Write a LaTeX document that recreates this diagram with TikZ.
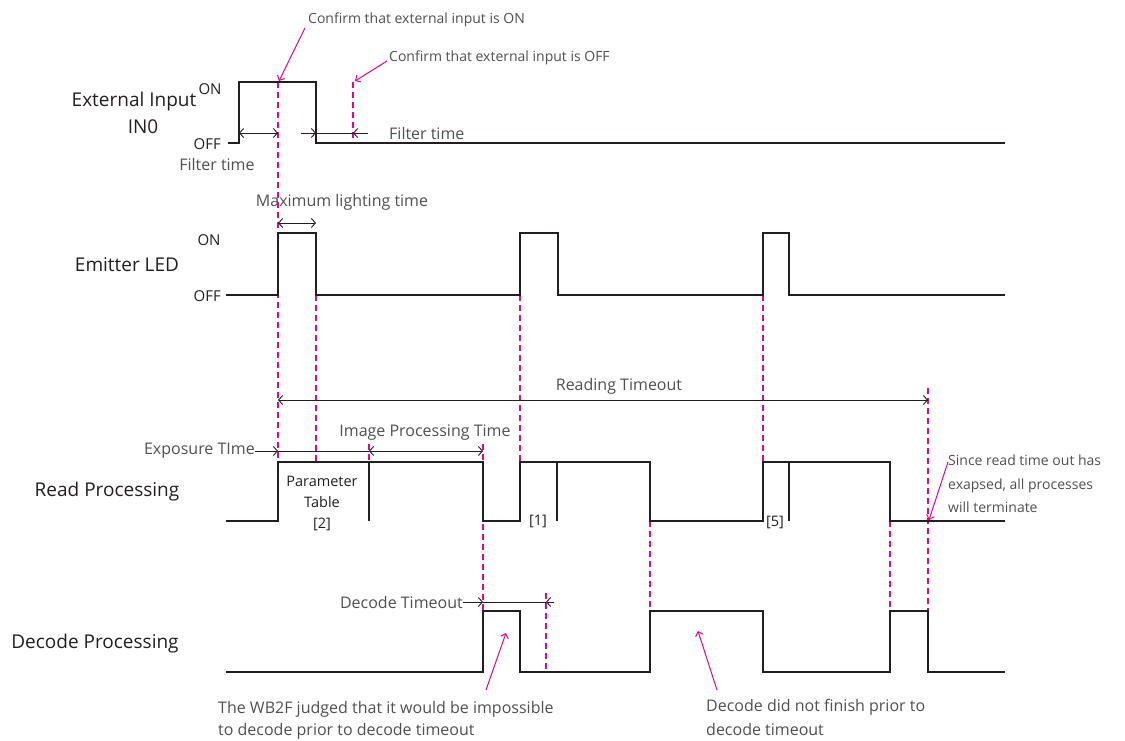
\documentclass[tikz,border=0pt]{standalone}
\usepackage{fontspec}
\setmainfont{Open Sans}
\usetikzlibrary{arrows.meta}
\definecolor{mag}{RGB}{236,0,140}
\definecolor{sig}{RGB}{35,31,32}
\definecolor{txt}{RGB}{80,80,80}
\tikzset{
  wave/.style={line width=2.8pt, draw=sig, line join=miter},
  guide/.style={draw=mag, line width=1.2pt, dash pattern=on 6pt off 4pt},
  barb/.tip={Straight Barb[length=4pt,width=9pt,line width=0.9pt]},
  dimline/.style={line width=0.9pt, draw=sig},
  dimboth/.style={dimline, barb-barb},
  lbl/.style={font=\fontsize{19}{22}\selectfont, text=sig, inner sep=0pt},
  lvl/.style={font=\fontsize{15}{18}\selectfont, text=sig, inner sep=0pt},
  note/.style={font=\fontsize{16}{23}\selectfont, text=txt, inner sep=0pt, align=left},
  notesm/.style={font=\fontsize{14}{23.5}\selectfont, text=txt, inner sep=0pt, align=left},
  small/.style={font=\fontsize{14.5}{21}\selectfont, text=sig, inner sep=0pt, align=center},
  callout/.style={draw=mag, line width=1pt, -{Straight Barb[length=4pt,width=8pt,line width=1pt]}},
}
\begin{document}
\begin{tikzpicture}[x=1pt,y=-1pt]
\useasboundingbox (0,0) rectangle (1125,740);

% ---------- guides ----------
\draw[guide] (278,82) -- (278,462);
\draw[guide] (316,295) -- (316,462);
\draw[guide] (353,82) -- (353,143);
\draw[guide] (369,444) -- (369,462);
\draw[guide] (483,444) -- (483,611);
\draw[guide] (520,295) -- (520,462);
\draw[guide] (546,593) -- (546,672);
\draw[guide] (650,521) -- (650,611);
\draw[guide] (763,295) -- (763,462);
\draw[guide] (890,521) -- (890,611);
\draw[guide] (928,388) -- (928,611);

% ---------- waveforms ----------
\draw[wave] (228,143) -- (239,143) -- (239,82) -- (316,82) -- (316,143) -- (1005,143);
\draw[wave] (226,295) -- (278,295) -- (278,233) -- (316,233) -- (316,295) -- (520,295) -- (520,233) -- (558,233) -- (558,295) -- (763,295) -- (763,233) -- (789,233) -- (789,295) -- (1005,295);
\draw[wave] (226,521) -- (278,521) -- (278,462) -- (483,462) -- (483,521) -- (520,521) -- (520,462) -- (650,462) -- (650,521) -- (763,521) -- (763,462) -- (890,462) -- (890,521) -- (1005,521);
\draw[wave] (369,462) -- (369,521);
\draw[wave] (557,462) -- (557,521);
\draw[wave] (789,462) -- (789,521);
\draw[wave] (226,672) -- (483,672) -- (483,611) -- (520,611) -- (520,672) -- (650,672) -- (650,611) -- (763,611) -- (763,672) -- (890,672) -- (890,611) -- (928,611) -- (928,672) -- (1005,672);

% ---------- signal labels ----------
\node[lbl] (extlbl) at (134,102) {External Input};
\node[lbl] (in0) at (143,127) {IN0};
\node[lvl] (exton) at (210,89) {ON};
\node[lvl, anchor=east] (extoff) at (221,144) {OFF};
\node[lbl] (ledlbl) at (127,265) {Emitter LED};
\node[lvl] (ledon) at (209,240) {ON};
\node[lvl, anchor=east] (ledoff) at (221,296) {OFF};
\node[lbl] (readlbl) at (107,492) {Read Processing};
\node[lbl] (declbl) at (95,644) {Decode Processing};

% ---------- dimension arrows ----------
\coordinate (f1a) at (239,133);
\coordinate (f1b) at (278,133);
\draw[dimboth] (f1a) -- (f1b);
\node[note] (filt1) at (217,164) {Filter time};

\coordinate (f2s) at (301,133);
\coordinate (f2a) at (316,133);
\coordinate (f2b) at (353,133);
\coordinate (f2e) at (368,133);
\draw[dimline,-barb] (f2s) -- (f2a);
\draw[dimline] (f2a) -- (f2b);
\draw[dimline,barb-] (f2b) -- (f2e);
\node[note, anchor=west] (filt2) at (389,133) {Filter time};

\coordinate (mla) at (278,223);
\coordinate (mlb) at (316,223);
\draw[dimboth] (mla) -- (mlb);
\node[note] (maxl) at (342,202) {Maximum lighting time};

\coordinate (rta) at (278,400);
\coordinate (rtb) at (928,400);
\draw[dimboth] (rta) -- (rtb);
\node[note] (rto) at (619,386) {Reading Timeout};

\node[note, anchor=east] (expo) at (255,451) {Exposure TIme};
\coordinate (exa) at (278,451);
\coordinate (exb) at (369,451);
\coordinate (ipb) at (483,451);
\draw[dimline,-barb] (expo.east) -- (exa);
\draw[dimline] (exa) -- (exb);
\draw[dimboth] (exb) -- (ipb);
\node[note] (ipt) at (425,433) {Image Processing Time};

\node[note, anchor=east] (dto) at (463,602) {Decode Timeout};
\coordinate (dta) at (483,602);
\coordinate (dtb) at (546,602);
\coordinate (dte) at (554,602);
\draw[dimline,-barb] (dto.east) -- (dta);
\draw[dimline] (dta) -- (dtb);
\draw[dimline,barb-] (dtb) -- (dte);

% ---------- read processing notes ----------
\node[small] (param) at (322,503) {Parameter\\Table\\{[2]}};
\node[small] (r1) at (538,521) {[1]};
\node[small] (r5) at (775,522) {[5]};

% ---------- callouts ----------
\node[notesm, anchor=west] (conon) at (308,20) {Confirm that external input is ON};
\node[notesm, anchor=west] (conoff) at (389,58) {Confirm that external input is OFF};
\coordinate (cona) at (305,28);
\coordinate (conb) at (279,81);
\draw[callout] (cona) -- (conb);
\coordinate (coffa) at (387,61);
\coordinate (coffb) at (355,81);
\draw[callout] (coffa) -- (coffb);

\node[notesm, anchor=west] (since) at (948,484) {Since read time out has\\exapsed, all processes\\will terminate};
\coordinate (sia) at (948,462);
\coordinate (sib) at (929,520);
\draw[callout] (sia) -- (sib);

\node[note, anchor=west, font=\fontsize{16}{22}\selectfont] (wb2f) at (218,720) {The WB2F judged that it would be impossible\\to decode prior to decode timeout};
\coordinate (wba) at (486,690);
\coordinate (wbb) at (506,633);
\draw[callout] (wba) -- (wbb);

\node[note, anchor=west, font=\fontsize{16}{24}\selectfont] (ddnf) at (706,717) {Decode did not finish prior to\\decode timeout};
\coordinate (dda) at (717,690);
\coordinate (ddb) at (698,631);
\draw[callout] (dda) -- (ddb);
\end{tikzpicture}
\end{document}
